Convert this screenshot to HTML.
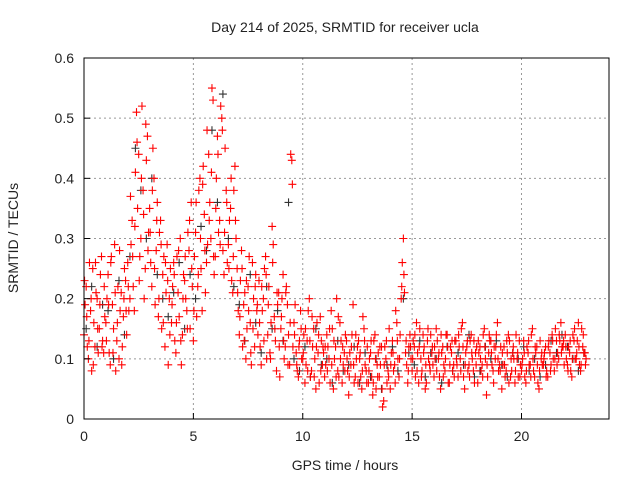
<!DOCTYPE html>
<html><head><meta charset="utf-8"><style>
body{margin:0;background:#fff}
svg{font-family:"Liberation Sans",sans-serif;font-size:14px}
</style></head><body>
<svg id="chart" width="640" height="480">
<text x="345" y="32" text-anchor="middle" fill="#222">Day 214 of 2025, SRMTID for receiver ucla</text>
<g id="grid"></g>
<g id="pts"></g>
<rect x="84" y="58" width="525" height="361" fill="none" stroke="#000" stroke-width="1"/>
<g id="axes"></g>
<text x="345" y="470" text-anchor="middle" fill="#222">GPS time / hours</text>
<text x="18" y="238" text-anchor="middle" fill="#222" transform="rotate(-90 18 238)">SRMTID / TECUs</text>
</svg>
<script>
const xTicks=[0,5,10,15,20];
const yTicks=[0,0.1,0.2,0.3,0.4,0.5,0.6];
const redStep=0.1, blackStep=0.25;
const redA=[.14,.22,.10,.18,.25,.12,.20,.15,.27,.11,.16,.24,.09,.19,.29,.13,.10,.21,.17,.23,.26,.20,.33,.18,.51,.44,.30,.38,.25,.47,.35,.22,.40,.28,.17,.33,.24,.12,.29,.20,.16,.26,.11,.21,.30,.14,.23,.18,.28,.36,.13,.31,.22,.40,.18,.34,.26,.44,.30,.53,.27,.47,.33,.50,.24,.38,.29,.35,.21,.42,.25,.14,.28,.19,.10,.22,.16,.26,.12,.18,.23,.09,.20,.27,.14,.11,.32,.17,.08,.21,.15,.24,.12,.19,.09,.43,.16,.11,.07,.18,.10,.06,.13,.20,.08,.15,.05,.11,.17,.09,.07,.14,.10,.18,.05,.12,.08,.16,.06,.11,.13,.04,.09,.19,.07,.12,.10,.05,.15,.08,.06,.11,.04,.14,.09,.07,.12,.03,.10,.08,.05,.13,.09,.16,.07,.20,.30,.11,.06,.14,.08,.12,.16,.06,.10,.14,.05,.13,.09,.11,.07,.15,.10,.05,.12,.08,.14,.06,.11,.09,.13,.07,.10,.16,.05,.12,.09,.14,.08,.11,.06,.12,.09,.15,.04,.11,.13,.08,.10,.16,.09,.05,.12,.08,.14,.07,.11,.06,.10,.13,.08,.13,.06,.11,.09,.15,.07,.12,.05,.10,.09,.12,.07,.11,.14,.08,.13,.10,.16,.12,.14,.09,.11,.07,.13,.10,.16,.08,.12,.11];
const redB=[.19,.12,.26,.08,.16,.21,.11,.24,.13,.17,.20,.11,.27,.15,.08,.22,.18,.12,.25,.14,.18,.29,.22,.41,.35,.27,.52,.20,.43,.31,.26,.45,.19,.36,.31,.15,.27,.21,.09,.25,.22,.13,.27,.17,.09,.24,.20,.31,.15,.22,.27,.17,.38,.25,.42,.21,.29,.36,.55,.24,.40,.31,.52,.28,.45,.26,.33,.23,.38,.30,.18,.23,.12,.21,.15,.27,.09,.20,.24,.14,.12,.18,.25,.10,.22,.16,.29,.13,.19,.07,.20,.10,.22,.14,.44,.12,.19,.08,.13,.10,.14,.09,.18,.07,.12,.10,.16,.06,.13,.11,.09,.12,.06,.15,.10,.20,.07,.13,.09,.14,.08,.11,.14,.06,.10,.13,.07,.17,.09,.12,.10,.07,.13,.05,.11,.09,.02,.12,.06,.15,.11,.08,.18,.10,.14,.26,.21,.09,.12,.10,.13,.07,.11,.15,.08,.12,.06,.10,.14,.09,.10,.13,.07,.11,.09,.14,.06,.12,.08,.13,.09,.12,.15,.07,.11,.08,.13,.10,.06,.12,.11,.08,.14,.10,.07,.13,.09,.12,.14,.08,.12,.09,.07,.11,.13,.08,.10,.14,.07,.09,.10,.07,.12,.09,.14,.08,.11,.06,.13,.09,.11,.08,.13,.09,.10,.15,.11,.13,.12,.09,.10,.12,.08,.14,.10,.13,.09,.15,.11,.10];
const redC=[.23,.17,.13,.20,.09,.26,.15,.19,.12,.22,.13,.19,.26,.11,.21,.16,.28,.09,.20,.18,.22,.37,.27,.32,.46,.23,.40,.34,.49,.28,.31,.38,.25,.33,.20,.29,.16,.26,.23,.14,.19,.24,.16,.28,.13,.20,.27,.15,.33,.25,.18,.36,.24,.30,.39,.28,.48,.33,.41,.27,.35,.44,.29,.48,.31,.36,.25,.40,.27,.33,.21,.17,.25,.13,.23,.18,.11,.15,.22,.19,.16,.22,.13,.24,.19,.10,.26,.15,.21,.12,.17,.13,.21,.09,.16,.39,.14,.09,.12,.15,.11,.15,.08,.13,.17,.07,.12,.14,.08,.12,.12,.08,.15,.09,.13,.07,.17,.10,.12,.08,.10,.07,.12,.09,.14,.06,.11,.08,.13,.06,.08,.13,.06,.10,.07,.12,.05,.09,.13,.07,.09,.11,.06,.13,.10,.22,.24,.13,.08,.12,.10,.14,.08,.12,.07,.11,.09,.15,.08,.12,.12,.08,.11,.14,.07,.10,.12,.09,.13,.07,.10,.14,.08,.12,.09,.13,.07,.11,.13,.09,.13,.10,.07,.12,.09,.14,.11,.06,.12,.10,.08,.11,.09,.13,.06,.10,.12,.08,.11,.07,.09,.11,.08,.13,.07,.10,.12,.09,.08,.11,.10,.07,.12,.08,.13,.10,.09,.14,.11,.13,.12,.08,.13,.10,.15,.11,.12,.09,.14,.09];
const black=[.15,.22,.12,.19,.18,.10,.23,.14,.27,.45,.38,.30,.40,.24,.20,.17,.21,.26,.15,.24,.20,.32,.28,.48,.36,.54,.30,.22,.19,.13,.24,.16,.11,.22,.15,.18,.13,.36,.10,.08,.12,.07,.15,.09,.10,.06,.13,.08,.09,.12,.06,.11,.07,.10,.05,.09,.12,.08,.20,.11,.09,.13,.07,.11,.10,.06,.12,.08,.11,.09,.14,.07,.08,.12,.10,.13,.09,.07,.11,.10,.12,.08,.10,.07,.09,.13,.11,.14,.12,.10,.08,.11];
const X0=84,X1=609,Y0=419,Y1=58,XMAX=24,YMAX=0.6;
const sx=v=>X0+(X1-X0)*v/XMAX, sy=v=>Y0-(Y0-Y1)*v/YMAX;
const NS='http://www.w3.org/2000/svg';
const grid=document.getElementById('grid'),axes=document.getElementById('axes'),pts=document.getElementById('pts');
function mk(tag,attrs,parent){const e=document.createElementNS(NS,tag);for(const k in attrs)e.setAttribute(k,attrs[k]);parent.appendChild(e);return e;}
xTicks.forEach(t=>{
 const x=sx(t);
 if(t>0){const g=mk('line',{x1:x,x2:x,y1:Y1,y2:Y0,stroke:'#999','stroke-dasharray':'2,3'},grid);
 
 }
 const tk=mk('line',{x1:x,x2:x,y1:Y0,y2:Y0-6,stroke:'#000'},axes);
 
 
 const l=mk('text',{x:x,y:Y0+22,'text-anchor':'middle',fill:'#222'},axes);l.textContent=t;
 
 
});
yTicks.forEach(t=>{
 const y=sy(t);
 if(t>0&&t<0.6){const g=mk('line',{x1:X0,x2:X1,y1:y,y2:y,stroke:'#999','stroke-dasharray':'2,3'},grid);
 
 }
 const tk=mk('line',{x1:X0,x2:X0+6,y1:y,y2:y,stroke:'#000'},axes);
 
 
 const l=mk('text',{x:X0-10,y:y+5,'text-anchor':'end',fill:'#222'},axes);l.textContent=t;
 
 
});
function plus(t,v,col,name){
 const x=sx(t),y=sy(v);
 const p=mk('path',{d:`M${x-4} ${y}H${x+4}M${x} ${y-4}V${y+4}`,stroke:col,'stroke-width':1.1,fill:'none'},pts);
 
 
}
black.forEach((v,i)=>plus(i*blackStep+0.1,v,'#333','black-point'));
redA.forEach((v,i)=>plus(i*redStep,v,'#f00','red-point'));
redB.forEach((v,i)=>plus(i*redStep+0.05,v,'#f00','red-point'));
redC.forEach((v,i)=>plus(i*redStep+0.025,v,'#f00','red-point'));
</script>
</body></html>
